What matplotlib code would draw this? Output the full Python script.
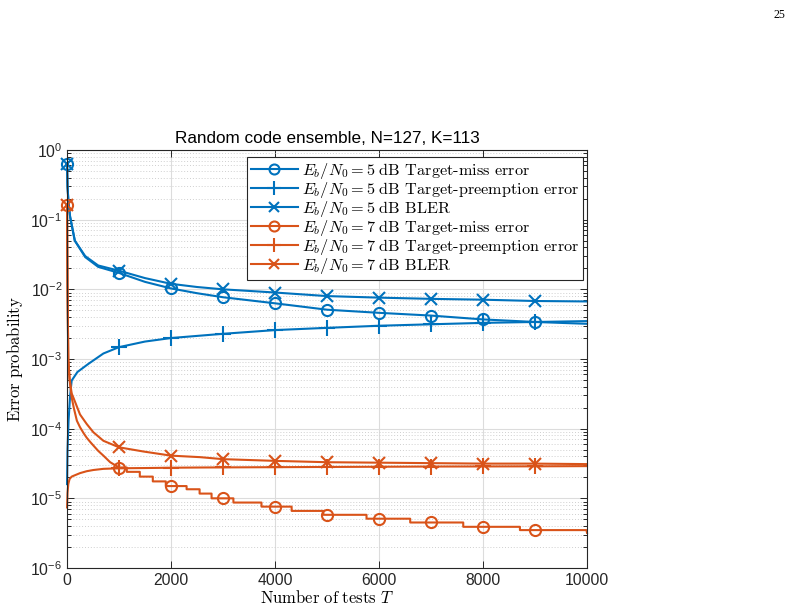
import numpy as np
import matplotlib
matplotlib.use('Agg')
import matplotlib.pyplot as plt
import matplotlib.ticker as ticker

plt.rcParams['font.family'] = 'Liberation Sans'
plt.rcParams['mathtext.fontset'] = 'cm'

# data (number of tests T, error probability)
t_5 = [1, 10, 30, 60, 150, 350, 600, 1000, 1500, 2000, 2500, 3000, 4000, 5000,
       6000, 7000, 8000, 9000, 10000]
miss_5 = [0.64, 0.3, 0.17, 0.11, 0.05, 0.029, 0.021, 0.0172, 0.0128, 0.0103, 0.0088,
          0.0077, 0.0063, 0.0051, 0.0046, 0.0042, 0.0037, 0.0034, 0.0032]
bler_5 = [0.64, 0.3, 0.17, 0.11, 0.05, 0.03, 0.022, 0.0185, 0.0145, 0.0120, 0.0108,
          0.0100, 0.0090, 0.0080, 0.0076, 0.0073, 0.0071, 0.0068, 0.0067]

t_5p = [1, 10, 30, 60, 90, 200, 410, 700, 1000, 1500, 2000, 3000, 4000, 5000,
        6000, 7000, 8000, 9000, 10000]
preempt_5 = [1.6e-5, 5e-5, 1.3e-4, 3e-4, 4.9e-4, 6.5e-4, 8.5e-4, 1.2e-3, 1.48e-3,
             1.78e-3, 2.0e-3, 2.3e-3, 2.6e-3, 2.8e-3, 3.0e-3, 3.15e-3, 3.3e-3,
             3.4e-3, 3.5e-3]

# target-miss at 7 dB: smooth start, then a staircase (repeated T = a step)
t_7m = [1, 10, 25, 50, 90, 130, 190, 250, 320, 380, 450, 510, 600, 700, 830, 1000,
        1150, 1150, 1400, 1400, 1650, 1650, 1900, 1900, 2000, 2300, 2300, 2550, 2550,
        2780, 2780, 3000, 3200, 3200, 3740, 3740, 4000, 4320, 4320, 4930, 4930,
        5000, 5760, 5760, 6000, 6600, 6600, 7000, 7620, 7620, 8000, 8710, 8710,
        9000, 9990, 10000]
miss_7 = [0.16, 0.01, 1.0e-3, 5e-4, 2.8e-4, 2.0e-4, 1.3e-4, 1.05e-4, 8.6e-5, 7.4e-5,
          6.4e-5, 5.7e-5, 4.8e-5, 4.1e-5, 3.3e-5, 2.77e-5,
          2.77e-5, 2.4e-5, 2.4e-5, 2.05e-5, 2.05e-5, 1.75e-5, 1.75e-5, 1.5e-5,
          1.5e-5, 1.5e-5, 1.35e-5, 1.35e-5, 1.17e-5,
          1.17e-5, 1.0e-5, 1.0e-5, 1.0e-5, 8.7e-6, 8.7e-6, 7.6e-6, 7.6e-6, 7.6e-6,
          6.6e-6, 6.6e-6, 5.8e-6, 5.8e-6, 5.8e-6, 5.1e-6, 5.1e-6, 5.1e-6, 4.5e-6,
          4.5e-6, 4.5e-6, 3.9e-6, 3.9e-6, 3.9e-6, 3.5e-6, 3.5e-6, 3.5e-6, 3.2e-6]

t_7 = [1, 10, 25, 50, 90, 122, 250, 378, 506, 700, 1000, 1470, 2000, 2560, 3000,
       4000, 5000, 6000, 7000, 8000, 9000, 10000]
bler_7 = [0.16, 0.01, 1.0e-3, 5.2e-4, 3.2e-4, 2.8e-4, 1.6e-4, 1.17e-4, 8.9e-5, 6.7e-5,
          5.4e-5, 4.7e-5, 4.1e-5, 3.9e-5, 3.65e-5, 3.45e-5, 3.3e-5, 3.25e-5, 3.2e-5,
          3.15e-5, 3.15e-5, 3.1e-5]
preempt_7 = [7.4e-6, 1.2e-5, 1.6e-5, 1.9e-5, 2.05e-5, 2.1e-5, 2.3e-5, 2.45e-5, 2.55e-5,
             2.65e-5, 2.7e-5, 2.72e-5, 2.75e-5, 2.77e-5, 2.78e-5, 2.8e-5, 2.82e-5,
             2.84e-5, 2.86e-5, 2.87e-5, 2.88e-5, 2.9e-5]

marker_t = [0, 1000, 2000, 3000, 4000, 5000, 6000, 7000, 8000, 9000]

blue = '#0072BD'
orange = '#D95319'
dark = '#262626'


def marks(t, first=True):
    # indices of the samples that carry a marker (first hit of each marker T)
    want = [m for m in marker_t if first or m > 0]
    out, seen = [], set()
    for i, v in enumerate(t):
        key = 0 if v == 1 else v
        if key in want and key not in seen:
            out.append(i)
            seen.add(key)
    return out


fig = plt.figure(figsize=(7.9, 6.15), dpi=100)
ax = fig.add_axes([67 / 790, 47 / 615, 520 / 790, 418 / 615])

lw = 1.5
common = dict(lw=lw, mew=1.5, clip_on=False)
ax.plot(t_5, miss_5, color=blue, marker='o', ms=8, mfc='none',
        markevery=marks(t_5), label=r'$E_b/N_0 = 5\ \text{dB Target-miss error}$', **common)
ax.plot(t_5p, preempt_5, color=blue, marker='+', ms=11,
        markevery=marks(t_5p, False),
        label=r'$E_b/N_0 = 5\ \text{dB Target-preemption error}$', **common)
ax.plot(t_5, bler_5, color=blue, marker='x', ms=8,
        markevery=marks(t_5), label=r'$E_b/N_0 = 5\ \text{dB BLER}$', **common)
ax.plot(t_7m, miss_7, color=orange, marker='o', ms=8, mfc='none',
        markevery=marks(t_7m), label=r'$E_b/N_0 = 7\ \text{dB Target-miss error}$', **common)
ax.plot(t_7, preempt_7, color=orange, marker='+', ms=11,
        markevery=marks(t_7, False),
        label=r'$E_b/N_0 = 7\ \text{dB Target-preemption error}$', **common)
ax.plot(t_7, bler_7, color=orange, marker='x', ms=8,
        markevery=marks(t_7), label=r'$E_b/N_0 = 7\ \text{dB BLER}$', **common)

ax.set_yscale('log')
ax.set_xlim(0, 10000)
ax.set_ylim(1e-6, 1)
ax.xaxis.set_major_locator(ticker.MultipleLocator(2000))
ax.yaxis.set_major_locator(ticker.LogLocator(base=10, numticks=10))
ax.yaxis.set_minor_locator(ticker.LogLocator(base=10, subs=np.arange(2, 10), numticks=20))
ax.yaxis.set_minor_formatter(ticker.NullFormatter())
ax.yaxis.set_major_formatter(ticker.FuncFormatter(
    lambda v, p: r'$\mathregular{10^{%d}}$' % int(round(np.log10(v)))))

ax.grid(True, which='major', color='#dcdcdc', lw=0.8)
ax.grid(True, which='minor', axis='y', color='#cfcfcf', lw=0.7, ls=(0, (1, 2)))
ax.set_axisbelow(True)

ax.tick_params(which='both', direction='in', top=True, right=True, colors=dark,
               labelsize=11.3, width=0.7)
ax.tick_params(which='major', length=5)
ax.tick_params(which='minor', length=3)
for s in ax.spines.values():
    s.set_color(dark)
    s.set_linewidth(0.8)

ax.set_title('Random code ensemble, N=127, K=113', fontsize=12.3, color='black', pad=5)
ax.set_xlabel(r'$\mathrm{Number\ of\ tests}\ T$', fontsize=12, labelpad=1)
ax.set_ylabel(r'$\mathrm{Error\ probability}$', fontsize=12, labelpad=4)

leg = ax.legend(loc='upper right', bbox_to_anchor=(0.993, 0.984), fontsize=11.7,
                frameon=True, fancybox=False, edgecolor=dark, framealpha=1,
                handlelength=2.9, handletextpad=0.25, labelspacing=-0.06,
                borderpad=0.25, borderaxespad=0, markerscale=0.9)
leg.get_frame().set_linewidth(0.8)

fig.text(0.994, 0.976, '25', ha='right', va='center', family='Liberation Serif',
         fontsize=8.5)

fig.savefig('out.png', dpi=100)
